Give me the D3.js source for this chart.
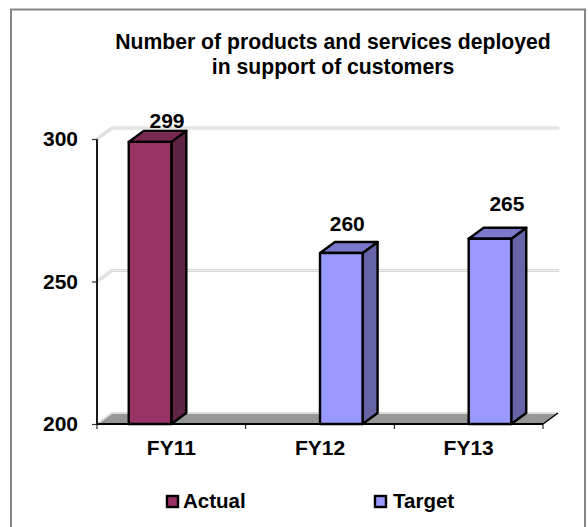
<!DOCTYPE html>
<html><head><meta charset="utf-8">
<script src="https://cdn.jsdelivr.net/npm/d3@7"></script>
<style>html,body{margin:0;padding:0;background:#fff;overflow:hidden}svg{display:block}text{font-family:"Liberation Sans",Arial,sans-serif;font-weight:bold;fill:#000}</style>
</head><body><svg id="c" width="588" height="527"></svg>
<script>
const titleLines = ["Number of products and services deployed", "in support of customers"];
const categories = ["FY11", "FY12", "FY13"];
const seriesNames = ["Actual", "Target"];
const actualValues = [299, null, null];
const targetValues = [null, 260, 265];
const yTicks = [200, 250, 300];
const frontColors = {Actual:"#993366", Target:"#9999ff"};
const sideColors = {Actual:"#5f2343", Target:"#6464a6"};
const topColors = {Actual:"#7a2a52", Target:"#7a7acc"};

const svg = d3.select("#c");
const depthX = 15, depthY = 11;
const y = d3.scaleLinear().domain([200,300]).range([424,139]);
const x0 = d3.scaleBand().domain(categories).range([97,543]).paddingInner(0.427).paddingOuter(0.2135);
const x1 = d3.scaleBand().domain(seriesNames).range([0,x0.bandwidth()]);
const line = d3.line();
const labelShift = {FY11:[17,-14], FY12:[6,-22], FY13:[17,-28]};

// frame
svg.append("rect").attr("x",11).attr("y",9.5).attr("width",574).attr("height",540)
  .attr("fill","#fff").attr("stroke","#858585").attr("stroke-width",2);

// title
svg.append("g").selectAll("text").data(titleLines).join("text")
  .attr("x",333).attr("y",(d,i)=>48.5+i*25.5).attr("text-anchor","middle").attr("font-size",21.2).text(d=>d);

// back wall gridlines: a soft double line
const [xL,xR] = x0.range();
[["#d6d6d6",3],["#f4f4f4",1]].forEach(([col,w])=>{
  svg.append("g").selectAll("path").data(yTicks.slice(1)).join("path")
    .attr("fill","none").attr("stroke",col).attr("stroke-width",w)
    .attr("stroke-linejoin","round").attr("stroke-linecap","round")
    .attr("d",d=>line([[xL,y(d)],[xL+depthX,y(d)-depthY],[xR+depthX,y(d)-depthY]]));
});

// floor
const y0 = y(200);
svg.append("path").attr("fill","#969696")
  .attr("d",line([[xL,y0],[xL+depthX,y0-depthY],[xR+depthX,y0-depthY],[xR,y0]])+"Z");
svg.append("path").attr("fill","none").attr("stroke","#dcdcdc").attr("stroke-width",2)
  .attr("d",line([[xL,y0],[xL+depthX,y0-depthY],[xR+depthX,y0-depthY]]));
svg.append("path").attr("fill","none").attr("stroke","#000").attr("stroke-width",1.5)
  .attr("d",line([[xR,y0],[xR+depthX,y0-depthY]]));

// bars
const rows = [];
seriesNames.forEach((s,si)=>{
  const vals = si===0 ? actualValues : targetValues;
  vals.forEach((v,i)=>{ if(v!==null) rows.push({s,v,c:categories[i]}); });
});
const bars = svg.append("g").selectAll("g").data(rows).join("g")
  .attr("stroke","#000").attr("stroke-width",2.4).attr("stroke-linejoin","round");
bars.append("path").attr("fill",d=>sideColors[d.s]).attr("d",d=>{
  const r=x0(d.c)+x1(d.s)+x1.bandwidth();
  return line([[r,y(d.v)],[r+depthX,y(d.v)-depthY],[r+depthX,y0-depthY],[r,y0]])+"Z";});
bars.append("path").attr("fill",d=>topColors[d.s]).attr("d",d=>{
  const l=x0(d.c)+x1(d.s), r=l+x1.bandwidth();
  return line([[l,y(d.v)],[l+depthX,y(d.v)-depthY],[r+depthX,y(d.v)-depthY],[r,y(d.v)]])+"Z";});
bars.append("rect").attr("fill",d=>frontColors[d.s])
  .attr("x",d=>x0(d.c)+x1(d.s)).attr("y",d=>y(d.v))
  .attr("width",x1.bandwidth()).attr("height",d=>y0-y(d.v));

// value labels
svg.append("g").selectAll("text").data(rows).join("text")
  .attr("x",d=>x0(d.c)+x1(d.s)+x1.bandwidth()/2+labelShift[d.c][0]).attr("y",d=>y(d.v)+labelShift[d.c][1])
  .attr("text-anchor","middle").attr("font-size",21).text(d=>d.v);

// y axis
const yAxis = svg.append("g").attr("transform",`translate(${xL},0)`)
  .call(d3.axisLeft(y).tickValues(yTicks).tickSize(5).tickPadding(14).tickFormat(d3.format("d")));
yAxis.selectAll("line").attr("stroke","#333").attr("stroke-width",1.2);
yAxis.select(".domain").attr("stroke","#000").attr("stroke-width",1.8).attr("d",line([[0,y(300)],[0,y(200)]]));
yAxis.selectAll("text").attr("font-size",21).attr("fill","#000")
  .style("font-family",'"Liberation Sans"').style("font-weight","bold");

// x axis
svg.append("path").attr("stroke","#000").attr("stroke-width",1.8).attr("d",line([[xL,y0],[xR,y0]]));
const step = x0.step();
svg.append("g").selectAll("line").data(d3.range(categories.length+1)).join("line")
  .attr("stroke","#000").attr("stroke-width",1)
  .attr("x1",i=>xL+i*step).attr("x2",i=>xL+i*step).attr("y1",y0).attr("y2",y0+5);
const xAxis = svg.append("g").attr("transform",`translate(0,${y0})`)
  .call(d3.axisBottom(x0).tickSize(0).tickPadding(16));
xAxis.select(".domain").remove();
xAxis.selectAll("text").attr("font-size",21).attr("fill","#000")
  .style("font-family",'"Liberation Sans"').style("font-weight","bold");

// legend
const legendX = d3.scaleOrdinal().domain(seriesNames).range([166,374]);
const lg = svg.append("g").selectAll("g").data(seriesNames).join("g")
  .attr("transform",d=>`translate(${legendX(d)},495)`);
lg.append("rect").attr("x",1).attr("y",1).attr("width",11).attr("height",11)
  .attr("fill",d=>frontColors[d]).attr("stroke","#000").attr("stroke-width",2.4);
lg.append("text").attr("x",(d,i)=>i?19:17).attr("y",13).attr("font-size",20.5).text(d=>d);
</script></body></html>
